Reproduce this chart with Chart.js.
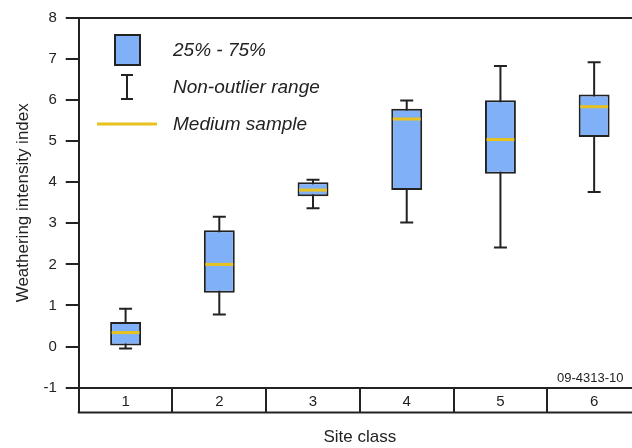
<!DOCTYPE html>
<html>
<head>
<meta charset="utf-8">
<script src="https://cdn.jsdelivr.net/npm/chart.js@4.4.1/dist/chart.umd.min.js"></script>
<style>
  html, body { margin: 0; padding: 0; background: #fff; overflow: hidden; }
  .wrap { width: 645px; height: 448px; }
</style>
</head>
<body>
<div class="wrap"><canvas id="myChart"></canvas></div>
<script>
const siteClasses = ['1', '2', '3', '4', '5', '6'];
const q1 = [0.0, 1.31, 3.66, 3.81, 4.21, 5.10];
const q3 = [0.6, 2.83, 4.0, 5.79, 6.0, 6.14];
const medians = [0.34, 2.0, 3.81, 5.54, 5.04, 5.84];
const whiskerLow = [-0.05, 0.78, 3.37, 3.02, 2.41, 3.76];
const whiskerHigh = [0.92, 3.16, 4.06, 5.99, 6.83, 6.92];

const FONT = "'Liberation Sans', Arial, sans-serif";
const INK = '#222';
const BLUE = '#80b0f8';
const YELLOW = '#e8c21e';

/* whiskers behind the boxes, medians on top */
const boxExtras = {
  id: 'boxExtras',
  beforeDatasetsDraw(chart) {
    const { ctx, scales: { x, y } } = chart;
    ctx.save();
    ctx.strokeStyle = INK;
    ctx.lineWidth = 2;
    siteClasses.forEach(function (c, i) {
      const cx = x.getPixelForValue(i);
      const lo = y.getPixelForValue(whiskerLow[i]);
      const hi = y.getPixelForValue(whiskerHigh[i]);
      ctx.beginPath();
      ctx.moveTo(cx, lo); ctx.lineTo(cx, hi);
      ctx.moveTo(cx - 6.5, lo); ctx.lineTo(cx + 6.5, lo);
      ctx.moveTo(cx - 6.5, hi); ctx.lineTo(cx + 6.5, hi);
      ctx.stroke();
    });
    ctx.restore();
  },
  afterDatasetsDraw(chart) {
    const { ctx, scales: { x, y } } = chart;
    const bars = chart.getDatasetMeta(0).data;
    ctx.save();
    ctx.strokeStyle = YELLOW;
    ctx.lineWidth = 3;
    medians.forEach(function (m, i) {
      const half = bars[i].width / 2 - 1.5;
      const cx = x.getPixelForValue(i);
      const py = y.getPixelForValue(m);
      ctx.beginPath();
      ctx.moveTo(cx - half, py); ctx.lineTo(cx + half, py);
      ctx.stroke();
    });
    ctx.restore();
  },
  afterDraw(chart) {
    const { ctx, chartArea } = chart;
    const x = chart.scales.x;
    ctx.save();
    // bottom line of the category band
    ctx.strokeStyle = INK;
    ctx.lineWidth = 2;
    ctx.beginPath();
    ctx.moveTo(chartArea.left - 1, chartArea.bottom + 25);
    ctx.lineTo(x.right + 2, chartArea.bottom + 25);
    ctx.stroke();

    // legend
    ctx.fillStyle = BLUE;
    ctx.fillRect(115, 35, 25, 30);
    ctx.strokeRect(115, 35, 25, 30);
    ctx.beginPath();
    ctx.moveTo(127, 75); ctx.lineTo(127, 99);
    ctx.moveTo(121, 75); ctx.lineTo(133, 75);
    ctx.moveTo(121, 99); ctx.lineTo(133, 99);
    ctx.stroke();
    ctx.strokeStyle = YELLOW;
    ctx.lineWidth = 3;
    ctx.beginPath();
    ctx.moveTo(97, 124); ctx.lineTo(157, 124);
    ctx.stroke();

    ctx.fillStyle = INK;
    ctx.font = 'italic 19px ' + FONT;
    ctx.textBaseline = 'middle';
    ctx.fillText('25% - 75%', 173, 51);
    ctx.fillText('Non-outlier range', 173, 88);
    ctx.fillText('Medium sample', 173, 125);

    ctx.font = '13px ' + FONT;
    ctx.fillText('09-4313-10', 557, 378);
    ctx.restore();
  }
};

const ctx = document.getElementById('myChart').getContext('2d');

const chart = new Chart(ctx, {
  type: 'bar',
  data: {
    labels: siteClasses,
    datasets: [{
      label: '25% - 75%',
      data: q1.map(function (v, i) { return [v, q3[i]]; }),
      backgroundColor: BLUE,
      borderColor: INK,
      borderWidth: 2,
      borderSkipped: false,
      barPercentage: 0.33,
      categoryPercentage: 1
    }]
  },
  options: {
    responsive: true,
    maintainAspectRatio: false,
    animation: false,
    layout: { padding: { top: 8, right: 4, left: 6, bottom: 0 } },
    plugins: {
      legend: { display: false },
      tooltip: { enabled: false }
    },
    scales: {
      x: {
        grid: { offset: true, drawOnChartArea: false, tickLength: 25, color: INK, lineWidth: 2 },
        border: { color: INK, width: 2 },
        ticks: { padding: -20, color: INK, font: { family: FONT, size: 15 } },
        title: { display: true, text: 'Site class', color: INK, font: { family: FONT, size: 17 }, padding: { top: 37, bottom: 0 } }
      },
      y: {
        min: -1,
        max: 8,
        ticks: { stepSize: 1, padding: 9, color: INK, font: { family: FONT, size: 15 } },
        grid: {
          color: function (c) { return c.tick && c.tick.value === 8 ? INK : 'rgba(0,0,0,0)'; },
          tickColor: INK,
          tickLength: 13,
          lineWidth: 2
        },
        border: { color: INK, width: 2 },
        title: { display: true, text: 'Weathering intensity index', color: INK, font: { family: FONT, size: 17 }, padding: { top: 7, bottom: 1 } }
      }
    }
  },
  plugins: [boxExtras]
});
</script>
</body>
</html>
